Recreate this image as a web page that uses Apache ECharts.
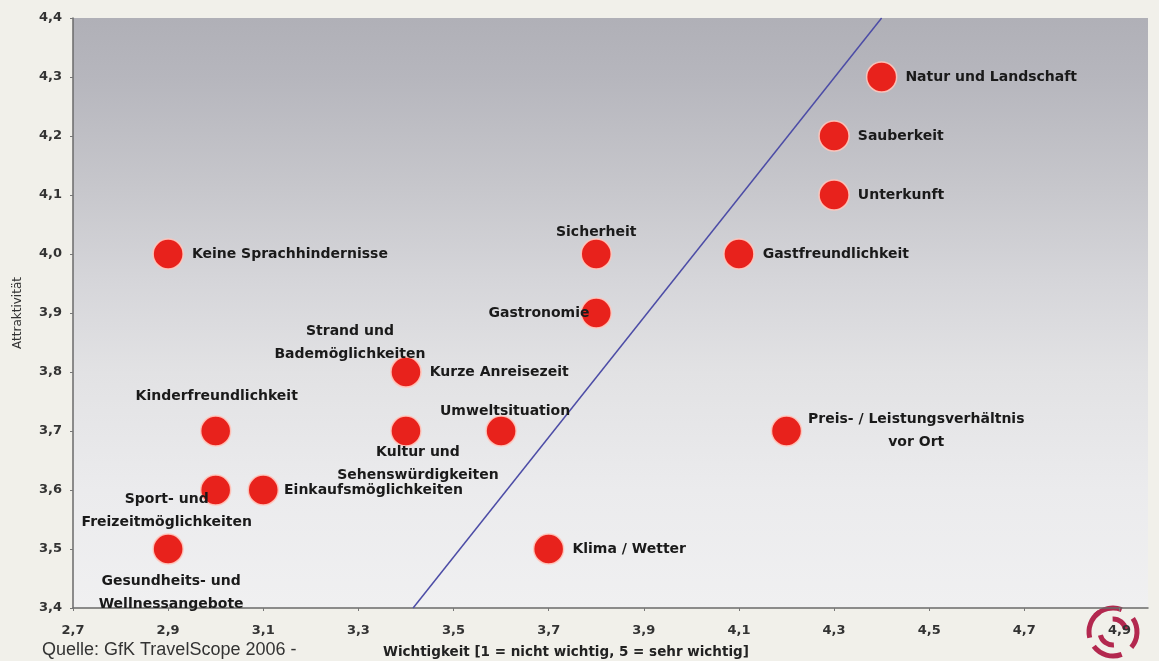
<!DOCTYPE html>
<html>
<head>
<meta charset="utf-8">
<script src="https://cdn.jsdelivr.net/npm/echarts@6/dist/echarts.min.js"></script>
<style>
html,body{margin:0;padding:0;background:#f1f0ea;}
#chart{width:1159px;height:661px;}
</style>
</head>
<body>
<div id="chart"></div>
<script>
// ---- data ----
const names = [
  "Natur und Landschaft", "Sauberkeit", "Unterkunft", "Gastfreundlichkeit",
  "Sicherheit", "Gastronomie", "Keine Sprachhindernisse",
  "Strand und\nBademöglichkeiten", "Kurze Anreisezeit", "Kinderfreundlichkeit",
  "Kultur und\nSehenswürdigkeiten", "Umweltsituation",
  "Preis- / Leistungsverhältnis\nvor Ort", "Sport- und\nFreizeitmöglichkeiten",
  "Einkaufsmöglichkeiten", "Gesundheits- und\nWellnessangebote", "Klima / Wetter"
];
const wichtigkeit = [4.4, 4.3, 4.3, 4.1, 3.8, 3.8, 2.9, 3.4, 3.4, 3.0, 3.4, 3.6, 4.2, 3.0, 3.1, 2.9, 3.7];
const attraktivitaet = [4.3, 4.2, 4.1, 4.0, 4.0, 3.9, 4.0, 3.8, 3.8, 3.7, 3.7, 3.7, 3.7, 3.6, 3.6, 3.5, 3.5];
const diagonal = [[3.415, 3.4], [4.4, 4.4]];
const xTicks = ["2,7","2,9","3,1","3,3","3,5","3,7","3,9","4,1","4,3","4,5","4,7","4,9"];
const yTicks = ["3,4","3,5","3,6","3,7","3,8","3,9","4,0","4,1","4,2","4,3","4,4"];

// ---- label placement (style only) ----
const labelStyle = {
  "Sicherheit": {position: "top", distance: 6, offset: [0, 12]},
  "Gastronomie": {position: "left", distance: -9},
  "Strand und\nBademöglichkeiten": {position: "top", offset: [-56, 16], distance: 6},
  "Kinderfreundlichkeit": {position: "top", offset: [1, -1], distance: 6},
  "Kultur und\nSehenswürdigkeiten": {position: "bottom", offset: [12, -8], distance: 2},
  "Umweltsituation": {position: "top", offset: [4, 14], distance: 6},
  "Preis- / Leistungsverhältnis\nvor Ort": {position: "right", distance: 8, align: "center", textOffset: 106},
  "Sport- und\nFreizeitmöglichkeiten": {position: "bottom", offset: [-49, -20], distance: 2},
  "Einkaufsmöglichkeiten": {position: "right", distance: 5},
  "Gesundheits- und\nWellnessangebote": {position: "bottom", offset: [3, 3], distance: 2}
};

const FONT = 'DejaVu Sans, Liberation Sans, Arial, sans-serif';

const points = names.map((n, i) => {
  const ls = labelStyle[n] || {position: "right", distance: 8};
  const label = {
    show: true,
    formatter: n,
    position: ls.position,
    distance: ls.distance,
    offset: ls.offset || [0, 0],
    align: ls.align,
    lineHeight: 23
  };
  if (ls.textOffset) { label.offset = [ls.textOffset, 0]; label.position = "right"; }
  return {value: [wichtigkeit[i], attraktivitaet[i]], label: label};
});

const chart = echarts.init(document.getElementById('chart'), null, {renderer: 'canvas'});
const fmt = v => (Math.round(v * 10) / 10).toFixed(1).replace('.', ',');

const option = {
  backgroundColor: '#f1f0ea',
  animation: false,
  grid: {left: 73, right: 11, top: 18, bottom: 53, show: true, borderWidth: 0,
    outerBoundsMode: 'none', containLabel: false,
    backgroundColor: {
      type: 'linear', x: 0, y: 0, x2: 0, y2: 1,
      colorStops: [
        {offset: 0, color: '#b0b0b7'},
        {offset: 0.1, color: '#b6b6bd'},
        {offset: 0.28, color: '#c6c6cb'},
        {offset: 0.45, color: '#d6d6da'},
        {offset: 0.6, color: '#e2e2e4'},
        {offset: 0.8, color: '#ebebed'},
        {offset: 1, color: '#f0f0f1'}
      ]
    }
  },
  xAxis: {
    type: 'value', min: 2.7, max: 4.96, interval: 0.2,
    splitLine: {show: false},
    axisLine: {show: true, onZero: false, lineStyle: {color: '#6a6a6a', width: 1.5}},
    axisTick: {show: true, length: 3, lineStyle: {color: '#777'}},
    axisLabel: {
      showMaxLabel: false, margin: 16,
      color: '#333', fontFamily: FONT, fontSize: 13, fontWeight: 'bold',
      formatter: v => { const s = fmt(v); return xTicks.indexOf(s) >= 0 ? s : ''; }
    }
  },
  yAxis: {
    type: 'value', min: 3.4, max: 4.4, interval: 0.1,
    splitLine: {show: false},
    axisLine: {show: true, onZero: false, lineStyle: {color: '#6a6a6a', width: 1.5}},
    axisTick: {show: true, length: 3, lineStyle: {color: '#777'}},
    axisLabel: {
      margin: 11, color: '#333', fontFamily: FONT, fontSize: 13, fontWeight: 'bold',
      formatter: v => { const s = fmt(v); return yTicks.indexOf(s) >= 0 ? s : ''; }
    },
    name: 'Attraktivität', nameLocation: 'middle', nameGap: 49, nameRotate: 90,
    nameTextStyle: {color: '#333', fontFamily: FONT, fontSize: 12}
  },
  series: [
    {
      type: 'line', data: diagonal, symbol: 'none', silent: true, clip: true,
      lineStyle: {color: '#4c4ca6', width: 1.5}, z: 2
    },
    {
      type: 'scatter', data: points, symbolSize: 30, z: 3,
      itemStyle: {color: '#e8221c', opacity: 1, borderColor: 'rgba(255,200,190,0.9)', borderWidth: 1.5},
      label: {
        color: '#1a1a1a', fontFamily: FONT, fontSize: 14, fontWeight: 'bold'
      }
    }
  ],
  graphic: [
    {type: 'text', left: 42, top: 641, style: {text: 'Quelle: GfK TravelScope 2006 -', fill: '#333', font: '18px "Liberation Sans", Arial, sans-serif'}},
    {type: 'text', left: 383, top: 645, style: {text: 'Wichtigkeit [1 = nicht wichtig, 5 = sehr wichtig]', fill: '#222', font: 'bold 13.5px "DejaVu Sans", Arial, sans-serif'}},
    {type: 'group', x: 1113, y: 632, children: [
      {type: 'arc', shape: {cx: 0, cy: 0, r: 24, startAngle: -2.4, endAngle: -1.2}, style: {stroke: '#b3284f', lineWidth: 5, fill: null}},
      {type: 'arc', shape: {cx: 0, cy: 0, r: 24, startAngle: -0.6, endAngle: 0.7}, style: {stroke: '#b3284f', lineWidth: 5, fill: null}},
      {type: 'arc', shape: {cx: 0, cy: 0, r: 24, startAngle: 1.2, endAngle: 2.5}, style: {stroke: '#b3284f', lineWidth: 5, fill: null}},
      {type: 'arc', shape: {cx: 0, cy: 0, r: 24, startAngle: 2.9, endAngle: 4.1}, style: {stroke: '#b3284f', lineWidth: 5, fill: null}},
      {type: 'arc', shape: {cx: 0, cy: 0, r: 13, startAngle: -1.6, endAngle: -0.2}, style: {stroke: '#b3284f', lineWidth: 5, fill: null}},
      {type: 'arc', shape: {cx: 0, cy: 0, r: 13, startAngle: 1.5, endAngle: 2.9}, style: {stroke: '#b3284f', lineWidth: 5, fill: null}}
    ]}
  ]
};
chart.setOption(option);
</script>
</body>
</html>
